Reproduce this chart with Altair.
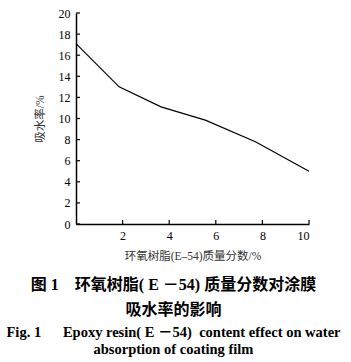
import altair as alt
import pandas as pd

# data
content = [0, 1.85, 3.65, 5.55, 7.7, 10]
absorption = [17.1, 13.0, 11.1, 9.85, 7.8, 5.0]
x_ticks = [2, 4, 6, 8, 10]
y_ticks = [0, 2, 4, 6, 8, 10, 12, 14, 16, 18, 20]

x_title = "环氧树脂(E–54)质量分数/%"
y_title = "吸水率/%"
cap_cn_1 = "图 1　环氧树脂( E －54) 质量分数对涂膜"
cap_cn_2 = "吸水率的影响"
cap_en_1 = "Fig. 1\u00a0\u00a0\u00a0\u00a0\u00a0\u00a0Epoxy resin( E －54)\u00a0\u00a0content effect on water"
cap_en_2 = "absorption of coating film"

W, H = 233, 211
SERIF = "Liberation Serif, Noto Sans CJK SC"
CX = 97.5

df = pd.DataFrame({"content": content, "absorption": absorption})
xs = alt.Scale(domain=[0, 10], nice=False)
ys = alt.Scale(domain=[0, 20], nice=False)

x_axis = alt.Axis(
    values=x_ticks, ticks=False, grid=False, domainColor="black", domainWidth=1.5,
    labelFont=SERIF, labelFontSize=12, labelColor="black", labelPadding=6,
    title=x_title, titleFont=SERIF, titleFontSize=11.5, titleFontWeight="normal",
    titleColor="#333", titlePadding=9)
y_axis = alt.Axis(
    values=y_ticks, ticks=False, grid=False, domainColor="black", domainWidth=1.5,
    labelFont=SERIF, labelFontSize=12, labelColor="black", labelPadding=6,
    title=y_title, titleFont=SERIF, titleFontSize=11.5, titleFontWeight="normal",
    titleColor="#333", titlePadding=13)

line = alt.Chart(df).mark_line(color="black", strokeWidth=1.2).encode(
    x=alt.X("content:Q", scale=xs, axis=x_axis),
    y=alt.Y("absorption:Q", scale=ys, axis=y_axis),
)

xt = alt.Chart(pd.DataFrame({"content": x_ticks})).mark_rule(color="black", strokeWidth=1.2).encode(
    x=alt.X("content:Q", scale=xs, axis=x_axis), y=alt.value(H - 4), y2=alt.value(H))
yt = alt.Chart(pd.DataFrame({"absorption": y_ticks})).mark_rule(color="black", strokeWidth=1.2).encode(
    y=alt.Y("absorption:Q", scale=ys, axis=y_axis), x=alt.value(0), x2=alt.value(4))

def cap(txt, y, size, color="black"):
    return alt.Chart(pd.DataFrame({"t": [txt]})).mark_text(
        font=SERIF, fontSize=size, fontWeight="bold", color=color, align="center",
        baseline="middle").encode(text="t:N", x=alt.value(CX), y=alt.value(y))

chart = alt.layer(
    line, xt, yt,
    cap(cap_cn_1, 272, 16), cap(cap_cn_2, 297, 16),
    cap(cap_en_1, 320, 14.5), cap(cap_en_2, 337, 14.5),
).properties(
    width=W, height=H,
    autosize=alt.AutoSizeParams(type="none"),
    padding={"left": 76, "top": 13, "right": 42, "bottom": 138},
).configure_view(stroke=None)

chart.save("out.html", embed_options={"renderer": "svg", "actions": False})
